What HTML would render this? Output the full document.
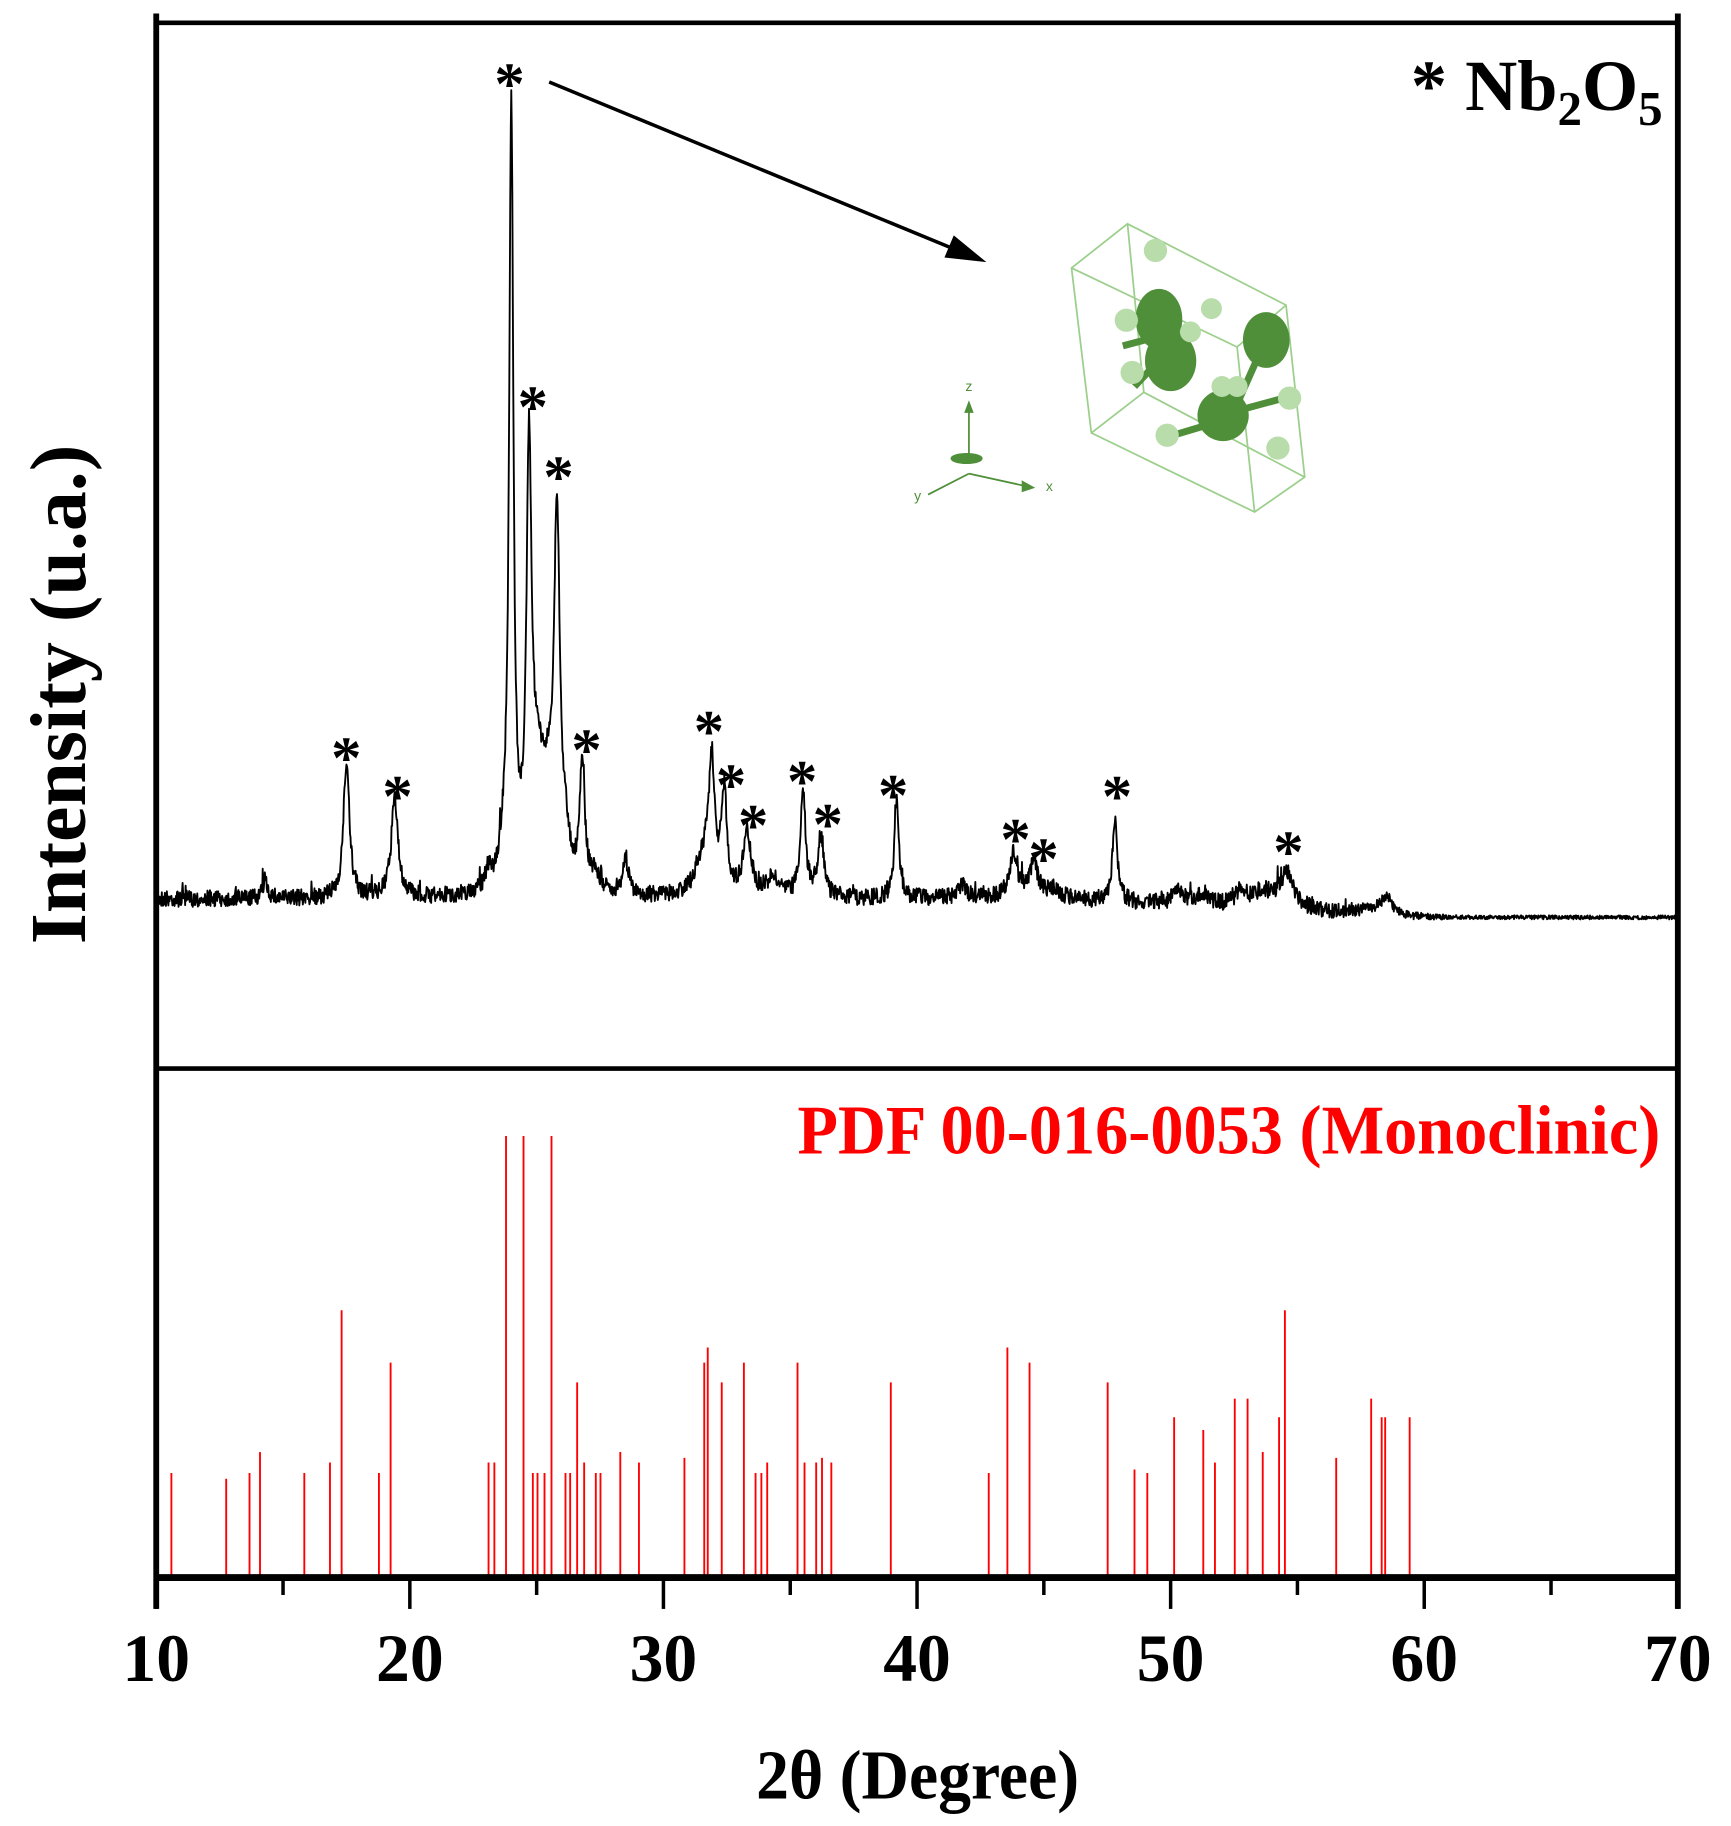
<!DOCTYPE html>
<html><head><meta charset="utf-8">
<style>html,body{margin:0;padding:0;background:#fff}svg{display:block}</style>
</head><body>
<svg id="s" width="1731" height="1826" viewBox="-1 -2.6 1484.6 1571.4" preserveAspectRatio="none" xmlns="http://www.w3.org/2000/svg" font-family="Liberation Serif, serif" font-weight="bold">
<rect x="-2" y="-3" width="1490" height="1575" fill="#fff"/>
<g id="red" stroke="#ff0000" stroke-width="1.6"></g>
<path id="curve" fill="none" stroke="#000" stroke-width="1.6" stroke-linejoin="round"/>
<line x1="133" y1="17" x2="1438" y2="17" stroke="#000" stroke-width="4"/>
<line x1="133" y1="917" x2="1438" y2="917" stroke="#000" stroke-width="4"/>
<line x1="133" y1="1355" x2="1438" y2="1355" stroke="#000" stroke-width="6"/>
<line x1="133" y1="9" x2="133" y2="1382" stroke="#000" stroke-width="5"/>
<line x1="1438" y1="9" x2="1438" y2="1382" stroke="#000" stroke-width="5"/>
<g id="ticks" stroke="#000" stroke-width="3"></g>
<g font-size="58" text-anchor="middle">
<text x="133" y="1444" textLength="58" lengthAdjust="spacingAndGlyphs">10</text><text x="350.5" y="1444" textLength="58" lengthAdjust="spacingAndGlyphs">20</text><text x="568" y="1444" textLength="58" lengthAdjust="spacingAndGlyphs">30</text>
<text x="785.5" y="1444" textLength="58" lengthAdjust="spacingAndGlyphs">40</text><text x="1003" y="1444" textLength="58" lengthAdjust="spacingAndGlyphs">50</text><text x="1220.5" y="1444" textLength="58" lengthAdjust="spacingAndGlyphs">60</text><text x="1438" y="1444" textLength="58" lengthAdjust="spacingAndGlyphs">70</text>
</g>
<text x="786" y="1545" font-size="60" text-anchor="middle" textLength="277" lengthAdjust="spacingAndGlyphs">2θ (Degree)</text>
<text transform="translate(72,595) rotate(-90)" font-size="68" text-anchor="middle" textLength="430" lengthAdjust="spacingAndGlyphs">Intensity (u.a.)</text>
<text x="1425" y="92" font-size="62" text-anchor="end">* Nb<tspan font-size="42" dy="13">2</tspan><tspan dy="-13">O</tspan><tspan font-size="42" dy="13">5</tspan></text>
<text x="1423" y="990" font-size="60" text-anchor="end" fill="#ff0000" textLength="740" lengthAdjust="spacingAndGlyphs">PDF 00-016-0053 (Monoclinic)</text>
<g id="stars" font-size="52" text-anchor="middle"></g>
<line x1="470" y1="68" x2="818" y2="212" stroke="#000" stroke-width="3"/>
<polygon points="845,223 809,219 817,200" fill="#000"/>
<g stroke="#9ccf8c" stroke-width="1.5" fill="none">
<polygon points="918,228 966,190 1102,260 1118,408 1075,438 935,370"/>
<line x1="918" y1="228" x2="1060" y2="296"/><line x1="1060" y1="296" x2="1102" y2="260"/>
<line x1="1060" y1="296" x2="1075" y2="438"/>
<line x1="966" y1="190" x2="980" y2="335"/><line x1="980" y1="335" x2="935" y2="370"/><line x1="980" y1="335" x2="1118" y2="408"/>
</g>
<g stroke="#4f8f3a" stroke-width="6">
<line x1="962" y1="295" x2="1000" y2="285"/><line x1="1000" y1="300" x2="972" y2="330"/>
<line x1="1080" y1="300" x2="1060" y2="345"/><line x1="1045" y1="360" x2="1005" y2="372"/><line x1="1045" y1="355" x2="1100" y2="340"/>
</g>
<g fill="#4f8f3a">
<ellipse cx="993" cy="272" rx="20" ry="26"/><ellipse cx="1003" cy="308" rx="22" ry="26"/>
<ellipse cx="1085" cy="290" rx="20" ry="24"/><ellipse cx="1048" cy="355" rx="22" ry="22"/>
</g>
<g fill="#b8dcaa">
<circle cx="990" cy="213" r="10"/><circle cx="965" cy="273" r="10"/><circle cx="1038" cy="263" r="9"/>
<circle cx="1020" cy="283" r="9"/><circle cx="970" cy="318" r="10"/><circle cx="1047" cy="330" r="9"/>
<circle cx="1060" cy="330" r="9"/><circle cx="1105" cy="340" r="10"/><circle cx="1000" cy="372" r="10"/>
<circle cx="1095" cy="383" r="10"/>
</g>
<g stroke="#4f8f3a" stroke-width="1.5" fill="#4f8f3a">
<line x1="830" y1="392" x2="830" y2="348"/><polygon points="827,352 830,344 833,352"/>
<line x1="830" y1="405" x2="880" y2="416"/><polygon points="876,412 885,417 876,420"/>
<line x1="830" y1="405" x2="795" y2="423"/>
<ellipse cx="828" cy="392" rx="13" ry="4"/>
</g>
<g font-size="12" fill="#4f8f3a" font-family="Liberation Sans, sans-serif" font-weight="normal">
<text x="827" y="334">z</text><text x="896" y="420">x</text><text x="783" y="428">y</text>
</g>
</svg>
<script>
var NS="http://www.w3.org/2000/svg";
function X(d){return 133+(d-10)*21.75;}
var red=[[146,1265],[193,1270],[213,1265],[222,1247],[260,1265],[282,1256],[292,1125],[324,1265],[334,1170],[418,1256],[423,1256],[433,975],[448,975],[456,1265],[460,1265],[466,1265],[472,975],[484,1265],[488,1265],[494,1187],[500,1256],[510,1265],[514,1265],[531,1247],[547,1256],[586,1252],[603,1170],[606,1157],[618,1187],[637,1170],[647,1265],[652,1265],[657,1256],[683,1170],[689,1256],[699,1256],[704,1252],[712,1256],[763,1187],[847,1265],[863,1157],[882,1170],[949,1187],[972,1262],[983,1265],[1006,1217],[1031,1228],[1041,1256],[1058,1201],[1069,1201],[1082,1247],[1096,1217],[1101,1125],[1145,1252],[1175,1201],[1184,1217],[1187,1217],[1208,1217]];
var g=document.getElementById("red");
red.forEach(function(r){var l=document.createElementNS(NS,"line");l.setAttribute("x1",r[0]);l.setAttribute("x2",r[0]);l.setAttribute("y1",r[1]);l.setAttribute("y2",1354);g.appendChild(l);});
var t=document.getElementById("ticks");
for(var d=10;d<=70;d+=5){var l=document.createElementNS(NS,"line");var x=X(d);l.setAttribute("x1",x);l.setAttribute("x2",x);l.setAttribute("y1",1355);l.setAttribute("y2",d%10==0?1382:1370);t.appendChild(l);}
var st=[[296,635],[340,668],[436,55],[456,333],[478,393],[502,628],[607,612],[626,658],[645,693],[687,655],[709,692],[765,667],[870,705],[894,722],[957,668],[1104,716]];
var sg=document.getElementById("stars");
st.forEach(function(s){var e=document.createElementNS(NS,"text");e.setAttribute("x",s[0]);e.setAttribute("y",s[1]+32);e.textContent="*";sg.appendChild(e);});
var pk=[[14.3,15,0.12],[17.5,118,0.14],[19.4,85,0.16],[23.1,15,0.15],[23.7,25,0.2],[24.0,665,0.1],[24.7,360,0.12],[25.05,90,0.25],[25.45,60,0.25],[25.8,305,0.14],[26.15,30,0.2],[26.8,110,0.12],[27.3,15,0.2],[28.5,30,0.15],[31.6,30,0.4],[31.9,100,0.15],[32.4,85,0.12],[33.3,55,0.18],[34.3,15,0.3],[35.5,92,0.12],[36.2,52,0.14],[39.2,88,0.1],[41.8,10,0.2],[43.8,37,0.2],[44.6,30,0.2],[45.4,8,0.3],[47.8,68,0.12],[50.3,10,0.3],[51.3,10,0.3],[52.8,14,0.3],[53.6,12,0.3],[54.6,26,0.3],[54.3,8,0.6],[58.5,16,0.25],[57.8,5,0.4]];
var seed=7;function rnd(){seed=(seed*16807)%2147483647;return seed/2147483647;}
var p="";
for(var i=0;i<=3000;i++){var d=10+i*0.02;var b=d<45?771:(d<60?771+(d-45)*16/15:787);
var amp=d<56?9:(d<61?9-(d-56)*1.3:2.2);
var y=b+(rnd()-0.5)*amp*1.6;
if(rnd()<0.03&&d<58)y-=rnd()*12;
for(var k=0;k<pk.length;k++){var q=(d-pk[k][0])/pk[k][2];y-=pk[k][1]/(1+q*q);}
p+=(i?"L":"M")+X(d).toFixed(1)+","+y.toFixed(1);}
document.getElementById("curve").setAttribute("d",p);
</script>
</body></html>
